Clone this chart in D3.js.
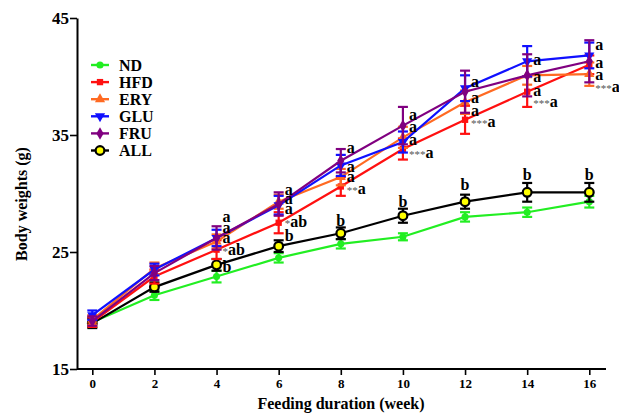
<!DOCTYPE html>
<html>
<head>
<meta charset="utf-8">
<script src="https://cdn.jsdelivr.net/npm/d3@7"></script>
<style>
  body { margin: 0; background: #fff; }
  text { font-family: "Liberation Serif", "Times New Roman", serif; font-weight: bold; }
</style>
</head>
<body>
<div id="chart"></div>
<script>
var weeks = [0, 2, 4, 6, 8, 10, 12, 14, 16];

var groupNames = ["ND", "HFD", "ERY", "GLU", "FRU", "ALL"];
var groupColors = ["#22ee22", "#ff1010", "#ff6a22", "#1010ff", "#800080", "#000000"];

var ndVals  = [19.0, 21.3, 22.9, 24.5, 25.7, 26.3, 28.0, 28.4, 29.3];
var ndErr   = [0.4, 0.4, 0.5, 0.4, 0.4, 0.3, 0.4, 0.4, 0.5];
var hfdVals = [19.0, 22.9, 25.2, 27.5, 30.6, 33.8, 36.3, 38.7, 41.0];
var hfdErr  = [0.4, 0.6, 0.8, 0.9, 0.8, 0.9, 1.2, 1.3, 0.8];
var eryVals = [19.2, 23.6, 25.9, 29.3, 31.4, 34.8, 37.8, 40.1, 40.2];
var eryErr  = [0.4, 0.5, 0.6, 0.6, 0.7, 0.9, 1.0, 0.8, 1.0];
var gluVals = [19.6, 23.5, 26.2, 29.0, 32.4, 34.4, 39.0, 41.3, 41.8];
var gluErr  = [0.4, 0.5, 0.7, 0.8, 0.9, 0.9, 1.1, 1.3, 1.1];
var fruVals = [19.1, 23.2, 26.2, 29.1, 32.8, 35.8, 38.7, 40.1, 41.3];
var fruErr  = [0.4, 0.6, 1.0, 1.0, 1.0, 1.6, 1.8, 1.8, 1.8];
var allVals = [18.9, 22.0, 23.9, 25.5, 26.6, 28.1, 29.3, 30.1, 30.1];
var allErr  = [0.4, 0.4, 0.5, 0.5, 0.5, 0.6, 0.6, 0.8, 0.8];

var yTicks = [15, 25, 35, 45];
var xTicks = [0, 2, 4, 6, 8, 10, 12, 14, 16];

// significance letters: week, text, y (data units)
var annWeek = [4, 4, 4, 4, 4,  6, 6, 6, 6, 6,  8, 8, 8, 8, 8,  10, 10, 10, 10, 10,  12, 12, 12, 12, 12,  14, 14, 14, 14, 14,  16, 16, 16, 16, 16];
var annText = ["a", "a", "a", "*ab", "b",  "a", "a", "a", "*ab", "b",  "a", "a", "a", "**a", "b",  "a", "a", "a", "***a", "b",  "a", "a", "a", "***a", "b",  "a", "a", "a", "***a", "b",  "a", "a", "a", "***a", "b"];
var annY    = [28.0, 27.1, 26.2, 25.2, 23.7,  30.3, 29.5, 28.7, 27.6, 26.4,  33.9, 32.3, 31.4, 30.4, 27.7,  36.7, 35.7, 34.6, 33.5, 29.3,  39.5, 38.2, 37.1, 36.1, 30.7,  41.4, 40.0, 38.8, 37.8, 31.6,  42.7, 41.2, 40.1, 39.1, 31.6];

var series = [
  { vals: ndVals, err: ndErr },
  { vals: hfdVals, err: hfdErr },
  { vals: eryVals, err: eryErr },
  { vals: gluVals, err: gluErr },
  { vals: fruVals, err: fruErr },
  { vals: allVals, err: allErr }
];

var width = 619, height = 414;

var x_scale = d3.scaleLinear().domain([0, 16]).range([92.3, 589.3]);
var y_scale = d3.scaleLinear().domain([15, 45]).range([369, 18]);
var xLeft = 77, xRight = 606;

var svg = d3.select("#chart").append("svg")
  .attr("width", width).attr("height", height);

// axes
var x_axis = d3.axisBottom(x_scale).tickValues(xTicks).tickSizeInner(6).tickSizeOuter(0).tickPadding(4);
var y_axis = d3.axisLeft(y_scale).tickValues(yTicks).tickSizeInner(7).tickSizeOuter(0).tickPadding(1);

var gx = svg.append("g").attr("transform", "translate(0," + y_scale(15) + ")").call(x_axis);
var gy = svg.append("g").attr("transform", "translate(" + xLeft + ",0)").call(y_axis);

gx.select(".domain").attr("d", "M" + xLeft + ",0H" + xRight).attr("stroke", "#000").attr("stroke-width", 2);
gy.select(".domain").attr("stroke", "#000").attr("stroke-width", 2);
gx.selectAll(".tick line").attr("stroke-width", 1.6);
gy.selectAll(".tick line").attr("stroke-width", 1.6);
gx.selectAll(".tick text").attr("font-size", 13).attr("font-family", "Liberation Serif").attr("font-weight", "bold").attr("fill", "#000");
gy.selectAll(".tick text").attr("font-size", 17).attr("font-family", "Liberation Serif").attr("font-weight", "bold").attr("fill", "#000");

svg.append("text").text("Feeding duration (week)")
  .attr("x", 341).attr("y", 409).attr("text-anchor", "middle").attr("font-size", 16);
svg.append("text").text("Body weights (g)")
  .attr("transform", "translate(27,204) rotate(-90)")
  .attr("text-anchor", "middle").attr("font-size", 16);

var symbolTypes = [d3.symbolCircle, d3.symbolSquare, d3.symbolTriangle, d3.symbolTriangle, d3.symbolDiamond, d3.symbolCircle];
var symbolRot = [0, 0, 0, 180, 0, 0];
var symbolSize = [40, 40, 45, 45, 45, 60];

function drawSymbol(g, i, cx, cy) {
  var s = g.append("path")
    .attr("d", d3.symbol().type(symbolTypes[i]).size(symbolSize[i])())
    .attr("transform", "translate(" + cx + "," + cy + ") rotate(" + symbolRot[i] + ")");
  if (i === 5) {
    s.attr("fill", "#ffff00").attr("stroke", "#000").attr("stroke-width", 2.2);
  } else {
    s.attr("fill", groupColors[i]);
  }
}

var line = d3.line()
  .x(function (d, j) { return x_scale(weeks[j]); })
  .y(function (d) { return y_scale(d); });

// draw order: ND, ALL, HFD, ERY, GLU, FRU
var order = [0, 5, 1, 2, 3, 4];
order.forEach(function (i) {
  var s = series[i];
  var g = svg.append("g");
  g.append("path").datum(s.vals)
    .attr("d", line).attr("fill", "none")
    .attr("stroke", groupColors[i]).attr("stroke-width", 2.2);
  var eg = g.selectAll(".err").data(s.vals).enter().append("g");
  eg.append("line")
    .attr("x1", function (d, j) { return x_scale(weeks[j]); })
    .attr("x2", function (d, j) { return x_scale(weeks[j]); })
    .attr("y1", function (d, j) { return y_scale(d - s.err[j]); })
    .attr("y2", function (d, j) { return y_scale(d + s.err[j]); })
    .attr("stroke", groupColors[i]).attr("stroke-width", 2.2);
  [-1, 1].forEach(function (sg) {
    eg.append("line")
      .attr("x1", function (d, j) { return x_scale(weeks[j]) - 5; })
      .attr("x2", function (d, j) { return x_scale(weeks[j]) + 5; })
      .attr("y1", function (d, j) { return y_scale(d + sg * s.err[j]); })
      .attr("y2", function (d, j) { return y_scale(d + sg * s.err[j]); })
      .attr("stroke", groupColors[i]).attr("stroke-width", 2.2);
  });
  s.vals.forEach(function (v, j) {
    drawSymbol(g, i, x_scale(weeks[j]), y_scale(v));
  });
});

// significance letters
annText.forEach(function (t, k) {
  var w = annWeek[k];
  var centered = (t === "b" && w >= 8);
  var txt = svg.append("text")
    .attr("x", centered ? x_scale(w) : x_scale(w) + 6)
    .attr("y", y_scale(annY[k]))
    .attr("dy", "0.32em")
    .attr("text-anchor", centered ? "middle" : "start")
    .attr("font-size", 16)
    .attr("fill", "#000");
  var stars = t.replace(/[^*]/g, "");
  var rest = t.replace(/\*/g, "");
  if (stars.length) {
    txt.append("tspan").text(stars).attr("fill", "#555").attr("font-size", 11).attr("font-weight", "normal");
  }
  txt.append("tspan").text(rest);
});

// legend
var legY0 = 65, legStep = 17.1;
groupNames.forEach(function (name, i) {
  var ly = legY0 + i * legStep;
  var lg = svg.append("g");
  lg.append("line").attr("x1", 91).attr("x2", 109).attr("y1", ly).attr("y2", ly)
    .attr("stroke", groupColors[i]).attr("stroke-width", 2.4);
  drawSymbol(lg, i, 100, ly);
  lg.append("text").text(name).attr("x", 119).attr("y", ly).attr("dy", "0.35em")
    .attr("font-size", 16).attr("fill", "#000");
});
</script>
</body>
</html>
